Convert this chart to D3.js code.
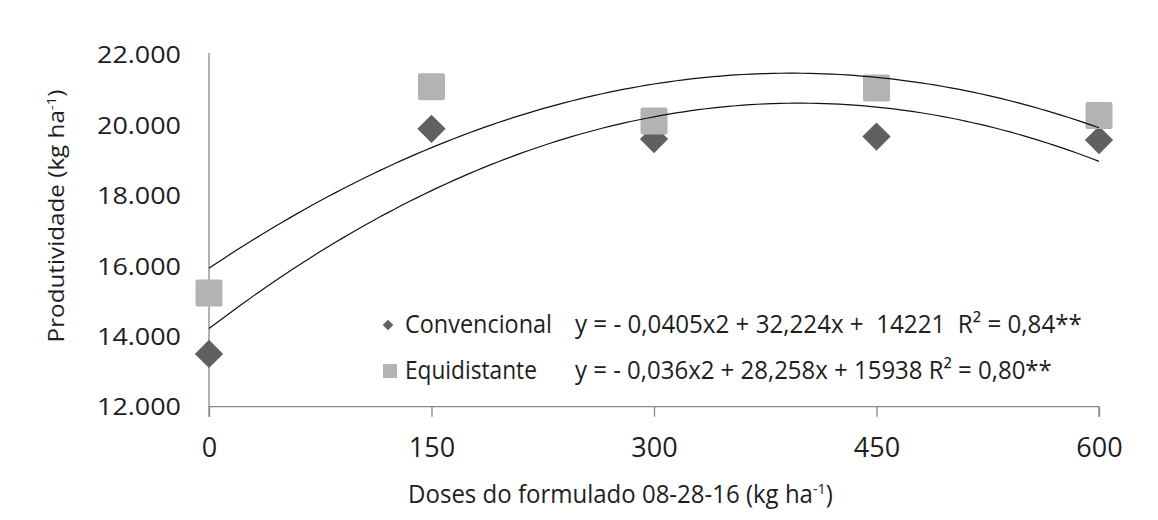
<!DOCTYPE html>
<html>
<head>
<meta charset="utf-8">
<script src="https://cdn.jsdelivr.net/npm/d3@7/dist/d3.min.js"></script>
<style>
  html, body { margin: 0; padding: 0; background: #fff; }
  svg { display: block; }
  text { font-family: "Open Sans", sans-serif; fill: #1e1e1e; }
</style>
</head>
<body>
<svg id="chart" width="1158" height="520"></svg>
<script>
// ---- data ----
const doses = [0, 150, 300, 450, 600];
const convencional = [13500, 19900, 19610, 19680, 19580];
const equidistante = [15230, 21100, 20120, 21060, 20280];
const yTicks = [12000, 14000, 16000, 18000, 20000, 22000];
const yTickLabels = ["12.000", "14.000", "16.000", "18.000", "20.000", "22.000"];
const xTicks = [0, 150, 300, 450, 600];
// trendline coefficients [a, b, c] for y = a x^2 + b x + c
const convCoef = [-0.0405, 32.224, 14221];
const equiCoef = [-0.036, 28.258, 15938];
const seriesNames = ["Convencional", "Equidistante"];
const equations = ["y = - 0,0405x2 + 32,224x +  14221  R² = 0,84**",
                   "y = - 0,036x2 + 28,258x + 15938 R² = 0,80**"];

const svg = d3.select("#chart");
const x = d3.scaleLinear().domain([0, 600]).range([209, 1099]);
const y = d3.scaleLinear().domain([12000, 22000]).range([406.7, 55]);

const axisColor = "#888888";

// fit helper: scale text horizontally to a target width around an anchor x
function fit(sel, target, ax) {
  sel.each(function () {
    const w = this.getBBox().width;
    const k = target / w;
    d3.select(this).attr("transform", `translate(${ax},0) scale(${k},1) translate(${-ax},0)`);
  });
}

// ---- axes ----
const xAxis = d3.axisBottom(x).tickValues(xTicks).tickSize(10).tickSizeOuter(10).tickFormat(d3.format("d"));
const gx = svg.append("g").attr("transform", `translate(0,${y(12000)})`).call(xAxis);
gx.select(".domain").attr("stroke", axisColor).attr("stroke-width", 1.3).attr("d", `M${x(0)},0H${x(600)}V10`);
gx.selectAll(".tick line").attr("stroke", axisColor).attr("stroke-width", 1.3);
gx.selectAll(".tick text").attr("y", 0).attr("dy", 0)
  .attr("transform", "translate(0,50)")
  .style("font-family", '"Open Sans", sans-serif').style("font-size", "27px").attr("fill", "#1e1e1e");

// y axis: plain line, no ticks
svg.append("line").attr("x1", x(0)).attr("x2", x(0)).attr("y1", y(22000) - 2).attr("y2", y(12000) + 10)
  .attr("stroke", axisColor).attr("stroke-width", 1.3);

const yl = svg.append("g").selectAll("text").data(yTicks).join("text")
  .attr("x", 181).attr("y", d => y(d) + 8.5)
  .attr("text-anchor", "end").style("font-size", "24px")
  .text((d, i) => yTickLabels[i]);
yl.each(function () { fit(d3.select(this), 84, 181); });

// axis titles
const xt = svg.append("text").attr("x", 620.5).attr("y", 503).attr("text-anchor", "middle").style("font-size", "25px");
xt.append("tspan").text("Doses do formulado 08-28-16 (kg ha");
xt.append("tspan").attr("dy", -9).style("font-size", "15px").text("-1");
xt.append("tspan").attr("dy", 9).text(")");
fit(xt, 425, 620.5);

const ytg = svg.append("g").attr("transform", "translate(64,216) rotate(-90)");
const yt = ytg.append("text").attr("x", 0).attr("y", 0).attr("text-anchor", "middle").style("font-size", "21px");
yt.append("tspan").text("Produtividade (kg ha");
yt.append("tspan").attr("dy", -8).style("font-size", "13px").text("-1");
yt.append("tspan").attr("dy", 8).text(")");
fit(yt, 253, 0);

// ---- markers ----
const diamondSide = 20;
const diamond = d3.symbol().type(d3.symbolSquare).size(diamondSide * diamondSide);
svg.append("g").selectAll("path").data(doses).join("path")
  .attr("d", diamond())
  .attr("transform", (d, i) => `translate(${x(d)},${y(convencional[i])}) rotate(45)`)
  .attr("fill", "#606060");

const sq = 27;
svg.append("g").selectAll("rect").data(doses).join("rect")
  .attr("x", d => x(d) - sq / 2)
  .attr("y", (d, i) => y(equidistante[i]) - sq / 2)
  .attr("width", sq).attr("height", sq).attr("rx", 2)
  .attr("fill", "#b3b3b3");

// ---- trendlines ----
const xs = d3.range(0, 601, 5);
const line = d3.line().x(d => x(d[0])).y(d => y(d[1]));
[convCoef, equiCoef].forEach(c => {
  const pts = xs.map(v => [v, c[0] * v * v + c[1] * v + c[2]]);
  svg.append("path").attr("d", line(pts)).attr("fill", "none")
    .attr("stroke", "#111").attr("stroke-width", 1.2);
});

// ---- legend ----
svg.append("path").attr("d", d3.symbol().type(d3.symbolSquare).size(7.5 * 7.5)())
  .attr("transform", "translate(388,325) rotate(45)").attr("fill", "#606060");
svg.append("rect").attr("x", 383).attr("y", 364).attr("width", 14).attr("height", 14).attr("fill", "#b3b3b3");

const legW = [147, 132];
const legB = [333, 379];
seriesNames.forEach((n, i) => {
  const t = svg.append("text").attr("x", 405).attr("y", legB[i]).style("font-size", "25px").text(n);
  fit(t, legW[i], 405);
});
const eqW = [507, 477];
equations.forEach((e, i) => {
  const t = svg.append("text").attr("x", 575).attr("y", legB[i]).style("font-size", "25px")
    .attr("xml:space", "preserve").style("white-space", "pre").text(e);
  fit(t, eqW[i], 575);
});
</script>
</body>
</html>
